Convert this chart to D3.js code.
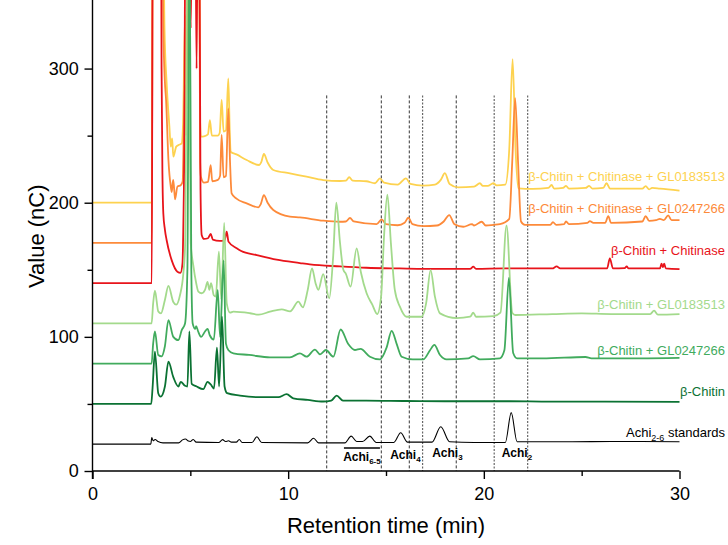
<!DOCTYPE html>
<html>
<head>
<meta charset="utf-8">
<script src="https://cdn.jsdelivr.net/npm/d3@7"></script>
<style>
  body { margin: 0; background: #fff; }
  text { font-family: "Liberation Sans", Arial, sans-serif; }
</style>
</head>
<body>
<div id="chart"></div>
<script>
// traces: [retention time (min), signal (nC)]
const stdTrace = [[0,20],[2.98,20],[3.03,25],[3.1,22.5],[3.2,23.5],[3.35,22],[3.6,21],[4.4,21],[4.6,23.2],[4.75,23.8],[4.9,22.3],[5.0,22],[5.15,23.5],[5.3,21.5],[6.45,21.3],[6.65,23.4],[6.8,22],[6.95,22.5],[7.1,21.5],[7.35,21.5],[7.5,23.5],[7.65,21.3],[8.15,21.2],[8.4,25.5],[8.65,21.2],[11.0,21],[11.3,24.4],[11.55,21],[12.9,21],[13.22,26],[13.5,22],[13.8,22],[14.17,26],[14.5,21.3],[15.4,21.3],[15.75,28.5],[16.1,21.5],[17.35,21.5],[17.8,33],[18.25,21.8],[19.5,21.3],[21.1,21.3],[21.4,43.5],[21.7,21.8],[24,21.8],[27,22],[30,21.8]];

const chitinTrace = [[0,50],[3.0,50],[3.07,62],[3.19,89],[3.36,58],[3.48,55.4],[3.7,63],[3.88,81.5],[4.13,70],[4.39,63],[4.51,66.5],[4.73,63.5],[4.85,63],[4.95,104],[5.07,65],[5.32,63],[5.66,61],[5.88,66.5],[6.04,64.5],[6.21,61.5],[6.36,92],[6.47,63],[6.62,115],[6.75,63],[6.88,58],[7.54,56.2],[8.5,55],[9.5,55],[9.92,57.3],[10.26,54.2],[11,53],[11.79,51.8],[12.2,52.5],[12.48,56.2],[12.8,52.5],[14,52.5],[16,52.2],[18,52],[20,52],[21.3,52],[23.4,51.7],[26,51.7],[30,51.5]];

const gl0247Trace = [[0,80],[3.02,80],[3.1,95],[3.19,104],[3.36,86.5],[3.53,85.5],[3.7,93],[3.88,112.5],[4.13,100],[4.39,97.5],[4.56,105],[4.73,110],[4.85,150],[4.95,430],[5.05,150],[5.12,110],[5.25,106],[5.3,108],[5.4,104],[5.55,100],[5.75,104],[5.88,106],[6.0,101],[6.2,98],[6.4,135],[6.52,100],[6.7,157],[6.82,95],[6.95,90],[7.2,87.7],[8.0,86.5],[9.07,84.7],[10.09,84.7],[10.6,87.7],[10.94,85.2],[11.37,90.5],[11.63,87],[11.93,90.2],[12.31,85.2],[12.68,105.5],[13.07,94.7],[13.41,90.2],[13.7,91],[14.18,85.2],[14.69,83.2],[15.03,92],[15.29,104.5],[15.54,95],[15.8,85.2],[16.37,83.2],[16.9,83.2],[17.25,90],[17.47,94],[17.76,86.5],[18.1,83.2],[19.2,84],[19.46,85.7],[19.8,83.2],[20.82,84],[21.05,90],[21.28,144],[21.5,88],[21.7,84],[23,84],[25.2,85],[25.5,84],[28,84],[30,84.3]];

const gl0183Trace = [[0,110],[3.02,110],[3.1,125],[3.19,134.5],[3.36,119],[3.5,117.5],[3.7,127.5],[3.88,138],[4.13,126],[4.28,124],[4.47,131],[4.64,147],[4.73,167],[4.88,430],[5.02,170],[5.15,153.5],[5.3,140],[5.41,133.7],[5.58,132.5],[5.75,135],[5.88,141],[5.97,135],[6.06,140],[6.2,131],[6.3,130],[6.46,163.5],[6.58,128],[6.73,185],[6.86,125],[7.03,118],[7.2,118.8],[8.05,117.6],[8.5,116.5],[9.07,118.8],[9.67,120.5],[10.1,119],[10.52,126.2],[10.75,122],[11.0,135],[11.22,151],[11.4,140],[11.54,135],[11.79,146.8],[12.1,128.7],[12.3,160],[12.46,200],[12.65,170],[12.82,150],[12.95,147],[13.19,137.4],[13.5,166],[13.72,148],[14.01,132.5],[14.3,124],[14.55,117],[14.75,130],[14.9,175],[15.07,206],[15.25,170],[15.45,135],[15.71,122.5],[16.05,115],[16.82,115],[17.05,125],[17.28,149.8],[17.5,130],[17.76,117.5],[18.6,114],[19.3,115],[19.46,118],[19.6,115],[20.5,115.5],[20.85,118],[21.16,183],[21.45,118],[21.6,116.3],[23.5,117],[25,117.5],[26.5,117],[28.5,117],[28.7,119.5],[28.9,116.5],[30,117]];

const chitinaseTrace = [[0,140],[3.03,140],[3.08,430],[3.5,430],[3.53,300],[3.58,215],[3.62,192],[3.7,180],[3.79,172],[4.05,157],[4.34,148.6],[4.5,147.8],[4.6,155],[4.66,200],[4.69,234],[4.75,430],[4.95,430],[5.02,330],[5.1,430],[5.25,430],[5.32,300],[5.38,430],[5.45,430],[5.52,210],[5.58,176],[5.7,173],[5.9,173.5],[6.04,176.7],[6.15,172.5],[6.5,171.5],[6.75,172],[6.86,178.4],[6.95,171],[7.37,166],[7.6,164],[8.39,161],[9.41,157.5],[10.6,155],[11.11,154],[12.65,152.5],[14,151.5],[15.7,151],[17,150.7],[19.3,150.7],[19.46,152.3],[19.6,150.7],[21,151],[23.5,151],[23.72,152.5],[23.9,151],[26.3,151],[26.44,158.5],[26.6,151],[27.2,151.2],[27.3,152.5],[27.4,151],[29.0,151],[29.08,154.5],[29.15,152],[29.22,154.5],[29.3,151],[30,150.5]];

const chitinaseGl0247Trace = [[0,170],[3.03,170],[3.08,430],[3.55,430],[3.62,330],[3.7,290],[3.76,276.6],[3.88,232],[4.0,212],[4.05,208],[4.1,215],[4.13,217],[4.22,202.5],[4.34,212],[4.51,213],[4.61,216],[4.66,250],[4.72,288],[4.78,250],[4.85,430],[5.45,430],[5.5,230],[5.54,219.4],[5.7,215],[5.9,215.5],[6.04,228],[6.12,216],[6.41,217],[6.52,220],[6.6,250.5],[6.7,219],[6.82,220],[6.94,270.4],[7.03,230],[7.11,207],[7.36,203],[7.88,199.5],[8.47,196.6],[8.6,199],[8.76,205.7],[8.95,200],[9.24,194.6],[10.09,189.6],[10.6,189],[11.79,186.6],[12.65,185.8],[12.95,186],[13.16,188.6],[13.35,186],[14.52,184],[14.78,187.6],[15.0,184],[15.6,183.2],[15.95,185],[16.14,188.8],[16.35,184],[16.9,182.5],[17.6,183],[17.95,186],[18.23,190.8],[18.5,184],[18.95,182.1],[19.4,184],[19.5,183],[19.89,185.8],[20.1,183],[20.5,183.5],[20.82,184],[21.3,188],[21.45,230],[21.6,278],[21.75,230],[21.9,186],[22.1,183.5],[23.4,183.5],[23.53,185.5],[23.7,183.5],[24.1,184],[24.2,186],[24.35,184],[25.3,185],[25.42,186.3],[25.6,185],[26.2,185],[26.36,190],[26.5,185],[28.1,186],[28.27,190],[28.45,186.5],[28.8,187],[29.0,188],[29.2,187],[29.42,190.5],[29.6,187],[30,187]];

const chitinaseGl0183Trace = [[0,200],[3.03,200],[3.08,430],[3.6,430],[3.68,330],[3.79,289],[3.93,256.7],[4.0,241.8],[4.07,248],[4.13,234.3],[4.28,241.8],[4.4,243],[4.56,244.3],[4.63,260],[4.73,340],[4.8,270],[4.85,430],[5.45,430],[5.5,260],[5.54,249.2],[5.7,249.5],[5.9,251],[6.0,261.6],[6.1,250],[6.4,250],[6.5,252],[6.6,276.6],[6.7,253],[6.82,254],[6.94,292.7],[7.02,250],[7.06,238],[7.36,236],[7.88,231.8],[8.52,228.1],[8.62,230],[8.76,236.3],[8.95,230],[9.24,224.4],[10.09,221.9],[10.94,219.4],[11.79,216.9],[12.65,216.2],[12.95,216.5],[13.12,219],[13.3,216.5],[14.0,216],[14.44,214.5],[14.69,218.2],[14.9,215],[15.6,213.5],[16.02,218.2],[16.25,214],[16.9,212.8],[17.5,213.5],[17.8,217],[18.01,222],[18.25,214],[18.69,211.5],[19.5,212],[19.8,214.5],[19.95,212.5],[20.2,212.5],[20.48,214.5],[20.65,213],[21.1,213.5],[21.3,240],[21.47,307],[21.62,240],[21.76,210.7],[22.5,210.3],[23.3,211],[23.46,213.2],[23.6,210.5],[24.05,211],[24.2,212.5],[24.35,210.5],[25.2,211],[25.38,212.5],[25.55,210.5],[26.1,211],[26.27,214.5],[26.45,210.5],[28.1,210.5],[28.27,212.4],[28.45,210],[28.6,211],[29.0,210.5],[30,209]];

const seriesNames = ["β-Chitin + Chitinase + GL0183513", "β-Chitin + Chitinase + GL0247266", "β-Chitin + Chitinase", "β-Chitin + GL0183513", "β-Chitin + GL0247266", "β-Chitin", "Achi"];
const seriesColors = ["#fdd24f", "#fd8a3a", "#e8141b", "#a3da8c", "#41ab5d", "#0b7233", "#000000"];
const seriesData = [chitinaseGl0183Trace, chitinaseGl0247Trace, chitinaseTrace, gl0183Trace, gl0247Trace, chitinTrace, stdTrace];
const labelY = [181, 213, 255, 309, 355, 395.5, 436.5]; // label baselines, px

const dashedTimes = [11.97, 14.76, 16.19, 16.87, 18.59, 20.53, 22.24];
const grayDashed = [false, false, false, true, false, true, true];

const peakLabels = [
  { sub: "6-5", t: 13.77, y: 461, bar: true },
  { sub: "4", t: 15.99, y: 458.5 },
  { sub: "3", t: 18.14, y: 456.5 },
  { sub: "2", t: 21.69, y: 457 }
];

const xTicks = [0, 5, 10, 15, 20, 25, 30];
const yTicks = [0, 50, 100, 150, 200, 250, 300];

const W = 728, H = 545;
const margin = { top: 1.5, right: 48.5, bottom: 74, left: 92.5 };
const width = W - margin.left - margin.right;
const height = H - margin.top - margin.bottom;

const svg = d3.select("#chart").append("svg")
  .attr("width", W).attr("height", H);

const x = d3.scaleLinear().domain([0, 30]).range([margin.left, margin.left + width]);
const y = d3.scaleLinear().domain([0, 350]).range([margin.top + height, margin.top]);

svg.append("defs").append("clipPath").attr("id", "plotclip")
  .append("rect").attr("x", margin.left).attr("y", -20)
  .attr("width", width + 1).attr("height", height + margin.top + 20);

// dashed guide lines
svg.append("g").selectAll("line").data(dashedTimes).enter().append("line")
  .attr("x1", d => x(d)).attr("x2", d => x(d))
  .attr("y1", y(280)).attr("y2", y(0))
  .attr("stroke", (d, i) => grayDashed[i] ? "#666" : "#000")
  .attr("stroke-width", (d, i) => grayDashed[i] ? 1.2 : 0.8)
  .attr("stroke-dasharray", (d, i) => grayDashed[i] ? "2,1.5" : "3,2");

// traces
const line = d3.line().x(d => x(d[0])).y(d => y(d[1])).curve(d3.curveMonotoneX);
svg.append("g").attr("clip-path", "url(#plotclip)")
  .selectAll("path").data(seriesData).enter().append("path")
  .attr("d", line)
  .attr("fill", "none")
  .attr("stroke", (d, i) => seriesColors[i])
  .attr("stroke-width", (d, i) => i === 6 ? 1.1 : 1.8)
  .attr("stroke-linejoin", "round");

// axes
const xAxis = svg.append("g").attr("transform", `translate(0,${y(0)})`)
  .call(d3.axisBottom(x).tickValues(xTicks).tickSize(8)
    .tickFormat(d => d % 10 === 0 ? d : ""));
xAxis.selectAll(".tick line").attr("y2", d => d % 10 === 0 ? 8 : 5);
const yAxis = svg.append("g").attr("transform", `translate(${margin.left},0)`)
  .call(d3.axisLeft(y).tickValues(yTicks).tickSize(8)
    .tickFormat(d => d % 100 === 0 ? d : ""));
yAxis.selectAll(".tick line").attr("x2", d => d % 100 === 0 ? -8 : -5);
[xAxis, yAxis].forEach(a => {
  a.select(".domain").attr("stroke-width", 1.4).attr("d", null);
  a.selectAll(".tick line").attr("stroke-width", 1.4);
  a.selectAll("text").attr("font-size", 18).attr("fill", "#000");
});
xAxis.select(".domain").attr("d", `M${x(0)},0H${x(30)}`);
yAxis.select(".domain").attr("d", `M0,${y(0) + 8}V${margin.top - 2}`);
xAxis.selectAll("text").attr("dy", "1.0em");
yAxis.selectAll("text").attr("dx", "-0.15em");

svg.append("text").attr("x", x(15)).attr("y", 533)
  .attr("text-anchor", "middle").attr("font-size", 22).text("Retention time (min)");
svg.append("text").attr("transform", `translate(44,${y(175)}) rotate(-90)`)
  .attr("text-anchor", "middle").attr("font-size", 22).text("Value (nC)");

// series labels
seriesNames.forEach((name, i) => {
  const t = svg.append("text").attr("x", 725).attr("y", labelY[i])
    .attr("text-anchor", "end").attr("font-size", 13).attr("fill", seriesColors[i]);
  if (i === 6) {
    t.append("tspan").text("Achi");
    t.append("tspan").attr("font-size", 9).attr("dy", 4).text("2-6");
    t.append("tspan").attr("dy", -4).text(" standards");
  } else {
    t.text(name);
  }
});

// peak annotations
peakLabels.forEach(p => {
  const t = svg.append("text").attr("x", x(p.t)).attr("y", p.y)
    .attr("text-anchor", "middle").attr("font-size", 12).attr("font-weight", "bold");
  t.append("tspan").text("Achi");
  t.append("tspan").attr("font-size", 8).attr("dy", 3).text(p.sub);
  if (p.bar) {
    svg.append("line").attr("x1", x(p.t) - 18).attr("x2", x(p.t) + 18)
      .attr("y1", p.y - 13).attr("y2", p.y - 13)
      .attr("stroke", "#000").attr("stroke-width", 1.5);
  }
});
</script>
</body>
</html>
